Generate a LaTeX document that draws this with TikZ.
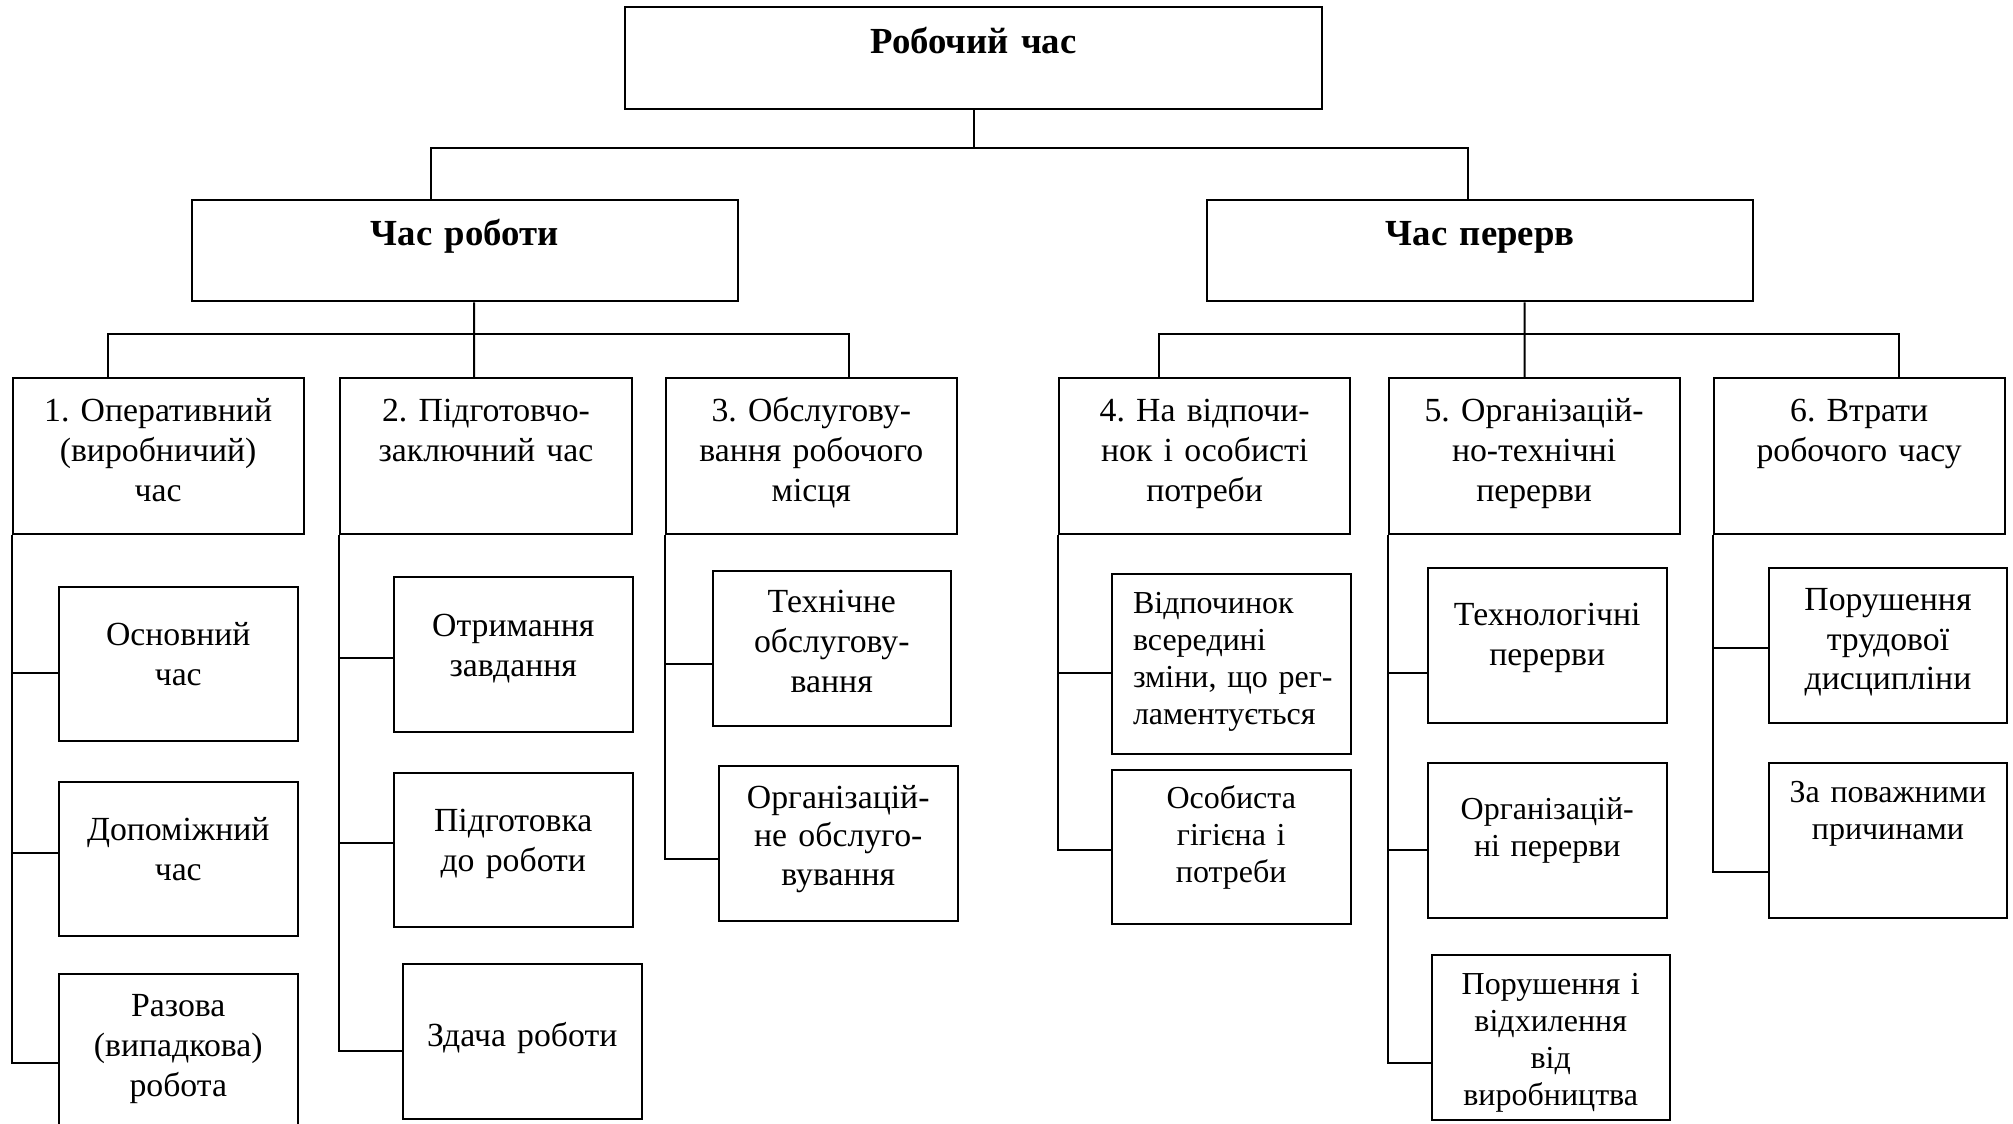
\documentclass[tikz,border=0pt]{standalone}
\usepackage{fontspec}
\setmainfont{Liberation Serif}
\frenchspacing
\begin{document}
\begin{tikzpicture}[x=0.4pt,y=-0.4pt,line width=0.8pt,
    head/.style={draw,anchor=north west,inner xsep=3pt,inner ysep=0pt,align=center,
      text width=212.2pt,text height=18.2pt,text depth=22.4pt,
      font=\fontsize{14.7}{17}\selectfont\bfseries},
    kind/.style={draw,anchor=north west,inner xsep=3pt,inner ysep=0pt,align=center,
      text width=110.5pt,text height=17.3pt,text depth=44.9pt,
      font=\fontsize{13.5}{16}\selectfont},
    sub/.style 2 args={draw,anchor=north west,inner xsep=3pt,inner ysep=0pt,align=center,
      text width=89.4pt,text height=#1,text depth=#2,
      font=\fontsize{13.5}{16}\selectfont},
    tight/.style={font=\fontsize{12.8}{14.8}\selectfont}]
\useasboundingbox (0,0) rectangle (2013,1124);

% top levels
\node[head,text width=272.8pt,text height=18.6pt,text depth=22.1pt] (rc) at (624,6.4) {Робочий час};
\node[head] (cr) at (191,199) {Час роботи};
\node[head] (cp) at (1206.4,199) {Час перерв};

\node[kind] (o1) at (11.5,377.5) {1. Оперативний\\(виробничий)\\час};
\node[kind] (o2) at (339.4,377.5) {2. Підготовчо-\\заключний час};
\node[kind] (o3) at (664.7,377.5) {3. Обслугову-\\вання робочого\\місця};
\node[kind] (o4) at (1058,377.5) {4. На відпочи-\\нок і особисті\\потреби};
\node[kind] (o5) at (1387.5,377.5) {5. Організацій-\\но-технічні\\перерви};
\node[kind] (o6) at (1712.5,377.5) {6. Втрати\\робочого часу};

% sub boxes
\node[sub={23.2pt}{38.4pt}] (s11) at (58,586) {Основний\\час};
\node[sub={23.2pt}{38.4pt}] (s12) at (58,781) {Допоміжний\\час};
\node[sub={16.8pt}{46pt}] (s13) at (58,973) {Разова\\(випадкова)\\робота};

\node[sub={23.8pt}{38.2pt}] (s21) at (393,576) {Отримання\\завдання};
\node[sub={23.2pt}{38.4pt}] (s22) at (393,772) {Підготовка\\до роботи};
\node[sub={33.1pt}{28.9pt}] (s23) at (402,963) {Здача роботи};

\node[sub={16.4pt}{45.6pt}] (s31) at (711.5,570) {Технічне\\обслугову-\\вання};
\node[sub={17pt}{45.2pt},font=\fontsize{13.5}{15.4}\selectfont] (s32) at (718,764.6) {Організацій-\\не обслуго-\\вування};

\node[sub={15.8pt}{56.1pt},tight,align=left] (s41) at (1111,573)
  {\hspace*{5.4pt}Відпочинок\\\hspace*{5.4pt}всередині\\\hspace*{5.4pt}зміни, що рег-\\\hspace*{5.4pt}ламентується};
\node[sub={15.4pt}{46.4pt},tight] (s42) at (1111,768.5) {Особиста\\гігієна і\\потреби};

\node[sub={23.1pt}{38.9pt}] (s51) at (1427,567) {Технологічні\\перерви};
\node[sub={22.6pt}{39.4pt},tight] (s52) at (1427,762) {Організацій-\\ні перерви};
\node[sub={15.6pt}{50.4pt},tight] (s53) at (1430.5,954) {Порушення і\\відхилення\\від\\виробництва};

\node[sub={17pt}{45pt},font=\fontsize{13.5}{15.8}\selectfont] (s61) at (1767.7,567) {Порушення\\трудової\\дисципліни};
\node[sub={15.6pt}{46.4pt},tight] (s62) at (1767.7,762) {За поважними\\причинами};

% tree lines
\draw (rc.south) -- ++(0,37.4) coordinate (j0);
\draw ([xshift=-13.5pt]cr.north) |- (j0) -| ([xshift=-4.9pt]cp.north);

\draw ([xshift=3.7pt]cr.south) -- ++(0,31.3) coordinate (j1) -- ([xshift=-4.8pt]o2.north);
\draw ([xshift=-20.1pt]o1.north) |- (j1) -| ([xshift=14.9pt]o3.north);

\draw ([xshift=17.8pt]cp.south) -- ++(0,31.3) coordinate (j2) -- ([xshift=-3.8pt]o5.north);
\draw ([xshift=-18.4pt]o4.north) |- (j2) -| ([xshift=15.8pt]o6.north);

% side rails
\foreach \s/\d in {s11/-3.6,s12/2.4,s13/-4.2}
  \draw (o1.south west) |- ([yshift=\d pt]\s.west);
\foreach \s/\d in {s21/-1.4,s22/2.8,s23/-3.8}
  \draw (o2.south west) |- ([yshift=\d pt]\s.west);
\foreach \s/\d in {s31/-6,s32/-6.4}
  \draw (o3.south west) |- ([yshift=\d pt]\s.west);
\foreach \s/\d in {s41/-3.6,s42/-1.2}
  \draw (o4.south west) |- ([yshift=\d pt]\s.west);
\foreach \s/\d in {s51/-11,s52/-3.6,s53/-10.2}
  \draw (o5.south west) |- ([yshift=\d pt]\s.west);
\foreach \s/\d in {s61/-1,s62/-12.6}
  \draw (o6.south west) |- ([yshift=\d pt]\s.west);

\end{tikzpicture}
\end{document}
